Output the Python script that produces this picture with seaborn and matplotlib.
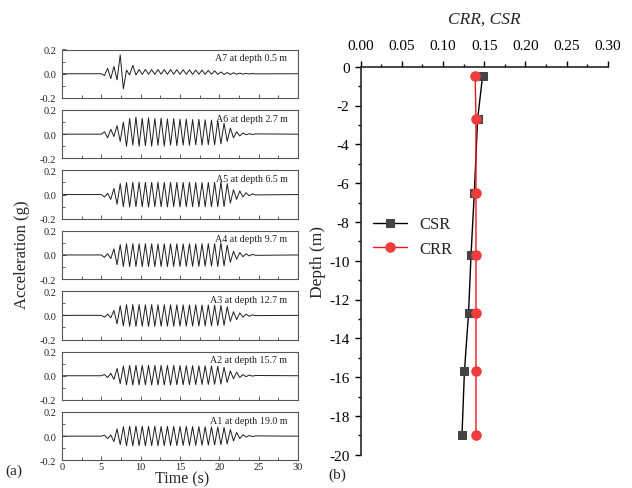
import numpy as np
import pandas as pd
import matplotlib
matplotlib.use("Agg")
import matplotlib.pyplot as plt
import seaborn as sns
from matplotlib.ticker import MultipleLocator, FormatStrFormatter

# ---------------- data ----------------
# time of successive acceleration extremes (half-period sampling, s)
T_EXT = np.round(np.linspace(5.0, 24.6, 50), 2)
T_START, T_END = 0.0, 30.0

A7 = [0.000, -0.015, 0.045, -0.040, 0.060, -0.050, 0.155, -0.125, 0.030, -0.010,
      0.070, -0.010, 0.035, -0.005, 0.035, -0.004, 0.034, -0.005, 0.035, -0.004,
      0.034, -0.005, 0.035, -0.004, 0.034, -0.005, 0.033, -0.004, 0.032, -0.005,
      0.030, -0.004, 0.030, -0.005, 0.028, -0.004, 0.025, -0.005, 0.015, -0.006,
      0.010, -0.006, 0.008, -0.004, 0.005, -0.003, 0.003, -0.002, 0.002, -0.001]
A6 = [0.000, 0.020, -0.030, 0.040, -0.020, 0.070, -0.060, 0.100, -0.100, 0.130,
      -0.090, 0.140, -0.100, 0.130, -0.095, 0.135, -0.100, 0.128, -0.092, 0.132,
      -0.098, 0.126, -0.090, 0.128, -0.095, 0.124, -0.090, 0.125, -0.092, 0.120,
      -0.088, 0.122, -0.090, 0.118, -0.086, 0.116, -0.088, 0.110, -0.080, 0.090,
      -0.060, 0.050, -0.030, 0.020, -0.015, 0.010, -0.005, 0.004, -0.003, 0.002]
A5 = [0.000, -0.020, 0.010, -0.040, 0.050, -0.080, 0.090, -0.100, 0.100, -0.102,
      0.101, -0.100, 0.102, -0.101, 0.100, -0.103, 0.101, -0.100, 0.102, -0.101,
      0.100, -0.102, 0.101, -0.100, 0.101, -0.102, 0.100, -0.101, 0.101, -0.100,
      0.100, -0.102, 0.099, -0.101, 0.100, -0.100, 0.100, -0.100, 0.105, -0.100,
      0.090, -0.070, 0.040, -0.040, 0.030, -0.020, 0.015, -0.010, 0.005, -0.003]
A4 = [0.000, -0.020, 0.010, -0.030, 0.050, -0.080, 0.085, -0.095, 0.092, -0.096,
      0.093, -0.095, 0.092, -0.096, 0.093, -0.095, 0.092, -0.096, 0.091, -0.095,
      0.092, -0.096, 0.091, -0.095, 0.092, -0.095, 0.091, -0.094, 0.092, -0.094,
      0.091, -0.094, 0.092, -0.093, 0.093, -0.092, 0.094, -0.095, 0.100, -0.090,
      0.080, -0.060, 0.030, -0.035, 0.020, -0.015, 0.010, -0.008, 0.005, -0.003]
A3 = [0.000, -0.015, 0.010, -0.020, 0.040, -0.070, 0.080, -0.088, 0.088, -0.090,
      0.089, -0.091, 0.088, -0.090, 0.087, -0.091, 0.088, -0.090, 0.087, -0.090,
      0.088, -0.089, 0.087, -0.090, 0.087, -0.089, 0.086, -0.089, 0.086, -0.088,
      0.086, -0.088, 0.085, -0.087, 0.085, -0.086, 0.084, -0.085, 0.082, -0.082,
      0.070, -0.050, 0.030, -0.035, 0.020, -0.015, 0.010, -0.008, 0.004, -0.002]
A2 = [0.000, 0.010, -0.015, 0.020, -0.030, 0.060, -0.065, 0.080, -0.075, 0.085,
      -0.076, 0.086, -0.076, 0.085, -0.075, 0.086, -0.076, 0.085, -0.075, 0.085,
      -0.076, 0.084, -0.075, 0.085, -0.074, 0.084, -0.075, 0.083, -0.074, 0.083,
      -0.073, 0.082, -0.072, 0.082, -0.072, 0.080, -0.070, 0.078, -0.068, 0.070,
      -0.055, 0.040, -0.025, 0.030, -0.015, 0.010, -0.008, 0.006, -0.003, 0.002]
A1 = [0.000, 0.008, -0.020, 0.010, -0.045, 0.060, -0.070, 0.078, -0.080, 0.082,
      -0.080, 0.083, -0.079, 0.082, -0.080, 0.081, -0.078, 0.082, -0.079, 0.080,
      -0.078, 0.081, -0.077, 0.080, -0.078, 0.079, -0.076, 0.080, -0.077, 0.079,
      -0.076, 0.078, -0.075, 0.077, -0.074, 0.076, -0.072, 0.075, -0.070, 0.072,
      -0.065, 0.055, -0.040, 0.030, -0.020, 0.012, -0.008, 0.005, -0.003, 0.002]

TRACES = [A7, A6, A5, A4, A3, A2, A1]
TRACE_LABELS = ["A7 at depth 0.5 m", "A6 at depth 2.7 m", "A5 at depth 6.5 m",
                "A4 at depth 9.7 m", "A3 at depth 12.7 m", "A2 at depth 15.7 m",
                "A1 at depth 19.0 m"]

DEPTH = [-0.5, -2.7, -6.5, -9.7, -12.7, -15.7, -19.0]
CSR = [0.148, 0.142, 0.138, 0.134, 0.131, 0.126, 0.123]
CRR = [0.139, 0.140, 0.140, 0.140, 0.140, 0.140, 0.140]

# ---------------- style ----------------
sns.set_theme(style="ticks")
plt.rcParams['font.family'] = ['Liberation Serif', 'DejaVu Serif']
plt.rcParams['axes.unicode_minus'] = False

W, H = 632, 489
fig = plt.figure(figsize=(W / 100, H / 100), dpi=100)

# ---------------- left: acceleration histories ----------------
x0, aw, ah = 62, 236, 48.5
for i, (vals, lab) in enumerate(zip(TRACES, TRACE_LABELS)):
    top = 50.5 + 60.4 * i
    ax = fig.add_axes([x0 / W, 1 - (top + ah) / H, aw / W, ah / H])
    df = pd.DataFrame({
        "t": np.concatenate([[T_START], T_EXT, [T_END]]),
        "a": np.concatenate([[0.0], vals, [0.0]]),
    })
    sns.lineplot(data=df, x="t", y="a", ax=ax, color="#1e1e1e", lw=0.7,
                 estimator=None, sort=False)
    ax.set_xlim(0, 30)
    ax.set_ylim(-0.2, 0.2)
    ax.set_xlabel("")
    ax.set_ylabel("")
    ax.xaxis.set_major_locator(MultipleLocator(5))
    ax.xaxis.set_minor_locator(MultipleLocator(2.5))
    ax.yaxis.set_major_locator(MultipleLocator(0.2))
    ax.yaxis.set_minor_locator(MultipleLocator(0.1))
    ax.yaxis.set_major_formatter(FormatStrFormatter("%.1f"))
    ax.tick_params(which="both", direction="in", top=False, right=False,
                   colors="#444444", labelcolor="#222222", width=0.6)
    ax.tick_params(which="major", length=3.0)
    ax.tick_params(which="minor", length=2.0)
    ax.tick_params(axis="y", labelsize=7.5, pad=4)
    ax.tick_params(axis="x", labelsize=7.5, pad=1.5)
    for s in ax.spines.values():
        s.set_color("#555555")
        s.set_linewidth(0.8)
    if i < len(TRACES) - 1:
        ax.set_xticklabels([])
    else:
        ax.xaxis.set_major_formatter(FormatStrFormatter("%d"))
    ax.text(0.955, 0.83, lab, transform=ax.transAxes, ha="right", va="center",
            fontsize=7.2, color="#222222")

fig.text(22 / W, 1 - 255 / H, "Acceleration (g)", rotation=90, ha="center",
         va="center", fontsize=12)
fig.text(182 / W, 1 - 479 / H, "Time (s)", ha="center", va="center", fontsize=11.5)
fig.text(14 / W, 1 - 471 / H, "(a)", ha="center", va="center", fontsize=11)

# ---------------- right: CSR / CRR ----------------
axr = fig.add_axes([360.7 / W, 1 - 455.7 / H, 247 / W, 388 / H])
sns.lineplot(x=CSR, y=DEPTH, ax=axr, sort=False, color="black", lw=1.0,
             marker="s", markersize=6.2, markerfacecolor="#444444",
             markeredgecolor="#444444", label="CSR", estimator=None)
sns.lineplot(x=CRR, y=DEPTH, ax=axr, sort=False, color="#e8191e", lw=1.0,
             marker="o", markersize=6.8, markerfacecolor="#f03c3c",
             markeredgecolor="#f03c3c", label="CRR", estimator=None)
axr.set_xlim(0, 0.30)
axr.set_ylim(-20, 0)
axr.xaxis.tick_top()
axr.xaxis.set_label_position("top")
axr.set_xlabel("CRR, CSR", fontsize=12.5, style="italic", labelpad=12)
axr.set_ylabel("Depth (m)", fontsize=12.5, labelpad=2)
axr.xaxis.set_major_locator(MultipleLocator(0.05))
axr.xaxis.set_minor_locator(MultipleLocator(0.025))
axr.xaxis.set_major_formatter(FormatStrFormatter("%.2f"))
axr.yaxis.set_major_locator(MultipleLocator(2))
axr.yaxis.set_minor_locator(MultipleLocator(1))
axr.yaxis.set_major_formatter(FormatStrFormatter("%d"))
axr.tick_params(which="both", direction="out", colors="black", labelsize=11,
                width=1.0)
axr.tick_params(which="major", length=4.5)
axr.tick_params(which="minor", length=2.5)
axr.tick_params(axis="x", pad=6)
axr.spines["right"].set_visible(False)
axr.spines["bottom"].set_visible(False)
axr.spines["left"].set_linewidth(1.2)
axr.spines["top"].set_linewidth(1.2)
axr.legend(loc="upper left", bbox_to_anchor=(0.01, 0.64), frameon=False,
           fontsize=12, handlelength=2.0, handletextpad=0.8, labelspacing=0.5,
           borderaxespad=0.2)
fig.text(337 / W, 1 - 475 / H, "(b)", ha="center", va="center", fontsize=11)

fig.savefig("out.png", dpi=100)
